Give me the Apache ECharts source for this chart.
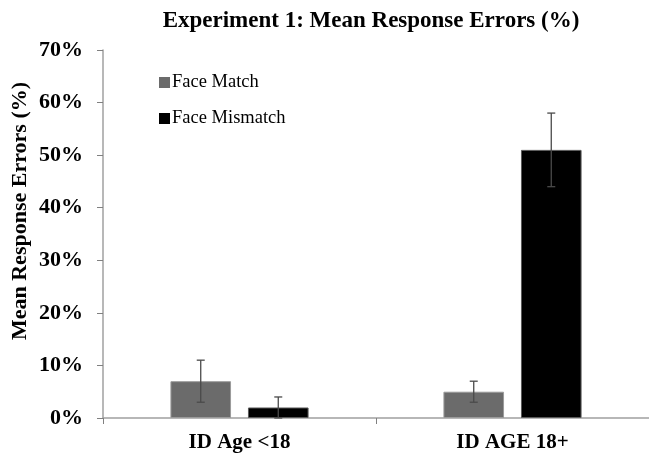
<!DOCTYPE html>
<html><head><meta charset="utf-8">
<script src="https://cdn.jsdelivr.net/npm/echarts@6/dist/echarts.min.js"></script>
<style>html,body{margin:0;padding:0;background:#fff}#c{width:649px;height:455px}</style>
</head><body><div id="c"></div>
<script>
var categories = ['ID Age <18', 'ID AGE 18+'];
var matchValues = [7, 5];
var matchErrLow = [3, 3];
var matchErrHigh = [11, 7];
var mismatchValues = [2, 51];
var mismatchErrLow = [0, 44];
var mismatchErrHigh = [4, 58];
var yTicks = [0, 10, 20, 30, 40, 50, 60, 70];

var serif = '"Liberation Serif","Times New Roman",serif';
var BAR_FRAC = 0.222, GAP_FRAC = 0.062;

function errSeries(low, high, sign) {
  var data = categories.map(function (c, i) { return [i, low[i], high[i]]; });
  return {
    type: 'custom', z: 10, silent: true,
    renderItem: function (params, api) {
      var band = api.size([1, 0])[0];
      var off = sign * (BAR_FRAC / 2 + GAP_FRAC / 2) * band;
      var lo = api.coord([api.value(0), api.value(1)]);
      var hi = api.coord([api.value(0), api.value(2)]);
      var x = lo[0] + off, cap = 4;
      var st = { stroke: '#4a4a4a', lineWidth: 1.3 };
      return { type: 'group', children: [
        { type: 'line', shape: { x1: x, y1: lo[1], x2: x, y2: hi[1] }, style: st },
        { type: 'line', shape: { x1: x - cap, y1: hi[1], x2: x + cap, y2: hi[1] }, style: st },
        { type: 'line', shape: { x1: x - cap, y1: lo[1], x2: x + cap, y2: lo[1] }, style: st }
      ] };
    },
    encode: { x: 0, y: [1, 2] },
    data: data
  };
}

var chart = echarts.init(document.getElementById('c'));
chart.setOption({
  animation: false,
  title: {
    text: 'Experiment 1: Mean Response Errors (%)', left: 366, top: 5, textAlign: 'center',
    textStyle: { fontFamily: serif, fontWeight: 'bold', fontSize: 23, color: '#000' }
  },
  graphic: [{
    type: 'text', x: 20, y: 211, rotation: Math.PI / 2,
    style: { text: 'Mean Response Errors (%)', fontFamily: serif, fontWeight: 'bold', fontSize: 22,
      fill: '#000', align: 'center', verticalAlign: 'middle' }
  }],
  legend: {
    orient: 'vertical', left: 154, top: 68, itemGap: 17, itemWidth: 11, itemHeight: 11,
    icon: 'rect', itemStyle: { borderWidth: 0 },
    textStyle: { fontFamily: serif, fontSize: 18.5, color: '#000', padding: [0, 0, 0, -3] },
    data: ['Face Match', 'Face Mismatch']
  },
  grid: { left: 103, top: 50, width: 550, height: 368 },
  xAxis: {
    type: 'category', data: categories,
    axisLine: { lineStyle: { color: '#a0a0a0', width: 1.5 } },
    axisTick: { show: true, length: 6, lineStyle: { color: '#808080' } },
    axisLabel: { fontFamily: serif, fontWeight: 'bold', fontSize: 21, color: '#000', margin: 14 }
  },
  yAxis: {
    type: 'value', min: 0, max: 70, interval: 10,
    axisLine: { show: true, lineStyle: { color: '#a0a0a0', width: 1.5 } },
    axisTick: { show: true, length: 6, lineStyle: { color: '#808080' } },
    splitLine: { show: false },
    axisLabel: { fontFamily: serif, fontWeight: 'bold', fontSize: 22, color: '#000', margin: 20,
      formatter: function (v) { return v + '%'; } }
  },
  series: [
    { name: 'Face Match', type: 'bar', data: matchValues, barWidth: (BAR_FRAC * 100) + '%', barGap: (GAP_FRAC / BAR_FRAC * 100) + '%',
      itemStyle: { color: '#6b6b6b', borderColor: '#9a9a9a', borderWidth: 1 } },
    { name: 'Face Mismatch', type: 'bar', data: mismatchValues, barWidth: (BAR_FRAC * 100) + '%',
      itemStyle: { color: '#000', borderColor: '#5a5a5a', borderWidth: 1 } },
    errSeries(matchErrLow, matchErrHigh, -1),
    errSeries(mismatchErrLow, mismatchErrHigh, 1)
  ]
});
</script></body></html>
